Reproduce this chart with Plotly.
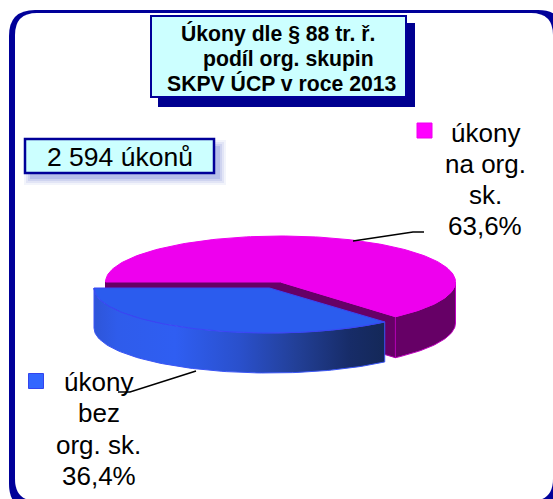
import math
import plotly.graph_objects as go

# --- data ---
categories = ["úkony na org. sk.", "úkony bez org. sk."]
label_lines = [["úkony", "na org.", "sk."], ["úkony", "bez", "org. sk."]]
shares = [63.6, 36.4]
total_text = "2 594 úkonů"
title_lines = ["Úkony dle § 88 tr. ř.", "podíl org. skupin", "SKPV ÚCP v roce 2013"]

# --- style / layout ---
W, H = 553, 499
DEPTH_M, DEPTH_B = 41, 40
RX, RY = 175, 46
FRAME = "#000099"
BOX = "#CCFFFF"
MAGENTA = "#EE00EE"
PURPLE = "#660066"
BLUE = "#2B5CEE"
TXT = "#000000"
FONT = "Liberation Sans, Arial, sans-serif"


def arc(cx, cy, rx, ry, t0, t1, n=90, dy=0):
    """Ellipse arc; t = 0 is the far left, increasing through the front."""
    pts = []
    for i in range(n + 1):
        t = math.radians(t0 + (t1 - t0) * i / n)
        pts.append((cx - rx * math.cos(t), cy + ry * math.sin(t) + dy))
    return pts


def poly(fig, pts, fill, line=None, lw=1, **kw):
    xs = [p[0] for p in pts] + [pts[0][0]]
    ys = [p[1] for p in pts] + [pts[0][1]]
    fig.add_trace(go.Scatter(
        x=xs, y=ys, mode="lines", fill="toself", fillcolor=fill,
        line=dict(color=line or fill, width=lw), hoverinfo="skip",
        showlegend=False, **kw))


def rrect(x0, y0, x1, y1, r):
    return (f"M{x0+r},{y0} L{x1-r},{y0} Q{x1},{y0} {x1},{y0+r} L{x1},{y1-r} "
            f"Q{x1},{y1} {x1-r},{y1} L{x0+r},{y1} Q{x0},{y1} {x0},{y1-r} "
            f"L{x0},{y0+r} Q{x0},{y0} {x0+r},{y0} Z")


fig = go.Figure()

# blue wedge spans the front-left, its angle comes from the share
sweep_blue = 360 * shares[1] / sum(shares)
mcx, mcy = 280.5, 282
bcx, bcy = 269.5, 288
brx, bry = 175.5, 45

# magenta slice: outer side, cut faces, top
front = arc(mcx, mcy, RX, RY, sweep_blue, 180, 40)
poly(fig, front + [(x, y + DEPTH_M) for x, y in reversed(front)], PURPLE, "#C000C0", 1)
tip = arc(mcx, mcy, RX, RY, sweep_blue, sweep_blue, 1)[0]
left = arc(mcx, mcy, RX, RY, 0, 0, 1)[0]
poly(fig, [(mcx, mcy), tip, (tip[0], tip[1] + DEPTH_M), (mcx, mcy + DEPTH_M)], PURPLE, "#B000B0", 1)
poly(fig, [(mcx, mcy), left, (left[0], left[1] + DEPTH_M), (mcx, mcy + DEPTH_M)], PURPLE, PURPLE, 1)
poly(fig, [(mcx, mcy)] + arc(mcx, mcy, RX, RY, sweep_blue, 360, 160), MAGENTA, MAGENTA, 1)

# blue slice: outer side with a horizontal gradient, then top
bfront = arc(bcx, bcy, brx, bry, 0, sweep_blue, 90)
poly(fig, bfront + [(x, y + DEPTH_B) for x, y in reversed(bfront)], "#2B5CEE", "#3A55F5", 1)
fig.data[-1].update(fillcolor=None, fillgradient=dict(
    type="horizontal",
    colorscale=[[0, "#2E55D8"], [0.08, "#2F5CEB"], [0.28, "#2F5EF2"], [0.5, "#2A50CC"],
                [0.7, "#223F96"], [0.88, "#172C68"], [1, "#142858"]]))
poly(fig, [(bcx, bcy)] + bfront, BLUE, "#3A45F5", 1)

# leader lines
for lx, ly in [([353, 413, 424], [241, 232, 232]), ([196, 130, 118], [371, 392, 392])]:
    fig.add_trace(go.Scatter(x=lx, y=ly, mode="lines", line=dict(color="#000000", width=1.5),
                             hoverinfo="skip", showlegend=False))

# legend keys
fig.add_trace(go.Scatter(x=[424.5, 36], y=[130.5, 381], mode="markers",
                         marker=dict(symbol="square", size=15, color=["#FF00FF", "#3366FF"],
                                     line=dict(color=["#EE00EE", "#3344EE"], width=1)),
                         hoverinfo="skip", showlegend=False))

shapes = [
    dict(type="path", path=rrect(9, 10, 564, 510, 26), fillcolor=FRAME, line_width=0, layer="below"),
    dict(type="path", path=rrect(15, 13, 553, 501, 22), fillcolor="#FFFFFF", line_width=0, layer="below"),
]
# title box
shapes += [
    dict(type="rect", x0=158, y0=23, x1=415, y1=107, fillcolor="#000090", line_width=0, layer="below"),
    dict(type="rect", x0=151, y0=16, x1=406, y1=97, fillcolor=BOX,
         line=dict(color=FRAME, width=2), layer="below"),
]
# soft shadow of the total box
for k, a in [(10, 0.06), (8, 0.08), (6, 0.10), (4, 0.14)]:
    shapes.append(dict(type="rect", x0=30 - k + 4, y0=146 - k + 4, x1=216 + k, y1=175 + k,
                       fillcolor=f"rgba(40,70,190,{a})", line_width=0, layer="below"))
shapes.append(dict(type="rect", x0=25, y0=139, x1=214, y1=173, fillcolor=BOX,
                   line=dict(color=FRAME, width=2.5), layer="below"))

ann = []


def text(x, y, s, size, bold=False):
    ann.append(dict(x=x, y=y, text=f"<b>{s}</b>" if bold else s, showarrow=False,
                    xanchor="center", yanchor="middle",
                    font=dict(family=FONT, size=size, color=TXT)))


for (x, y), s in zip([(278, 33), (288, 59), (281, 83)], title_lines):
    text(x, y, s, 21.2, True)
text(119.5, 157, total_text, 26.5)

pct = [f"{v:.1f}".replace(".", ",") + "%" for v in shares]
for lines, p, cx, ys in [
    (label_lines[0], pct[0], 485, [133, 164, 195, 226]),
    (label_lines[1], pct[1], 98.5, [382, 413, 445, 476]),
]:
    for s, y in zip(lines + [p], ys):
        text(cx, y, s, 26)

fig.update_layout(
    width=W, height=H, margin=dict(l=0, r=0, t=0, b=0), autosize=False,
    paper_bgcolor="#FFFFFF", plot_bgcolor="rgba(0,0,0,0)", showlegend=False,
    shapes=shapes, annotations=ann,
    xaxis=dict(range=[0, W], visible=False, fixedrange=True),
    yaxis=dict(range=[H, 0], visible=False, fixedrange=True),
)
fig.write_html("out.html", config={"displayModeBar": False},
               post_script="document.body.style.margin='0';document.documentElement.style.overflow='hidden';")
